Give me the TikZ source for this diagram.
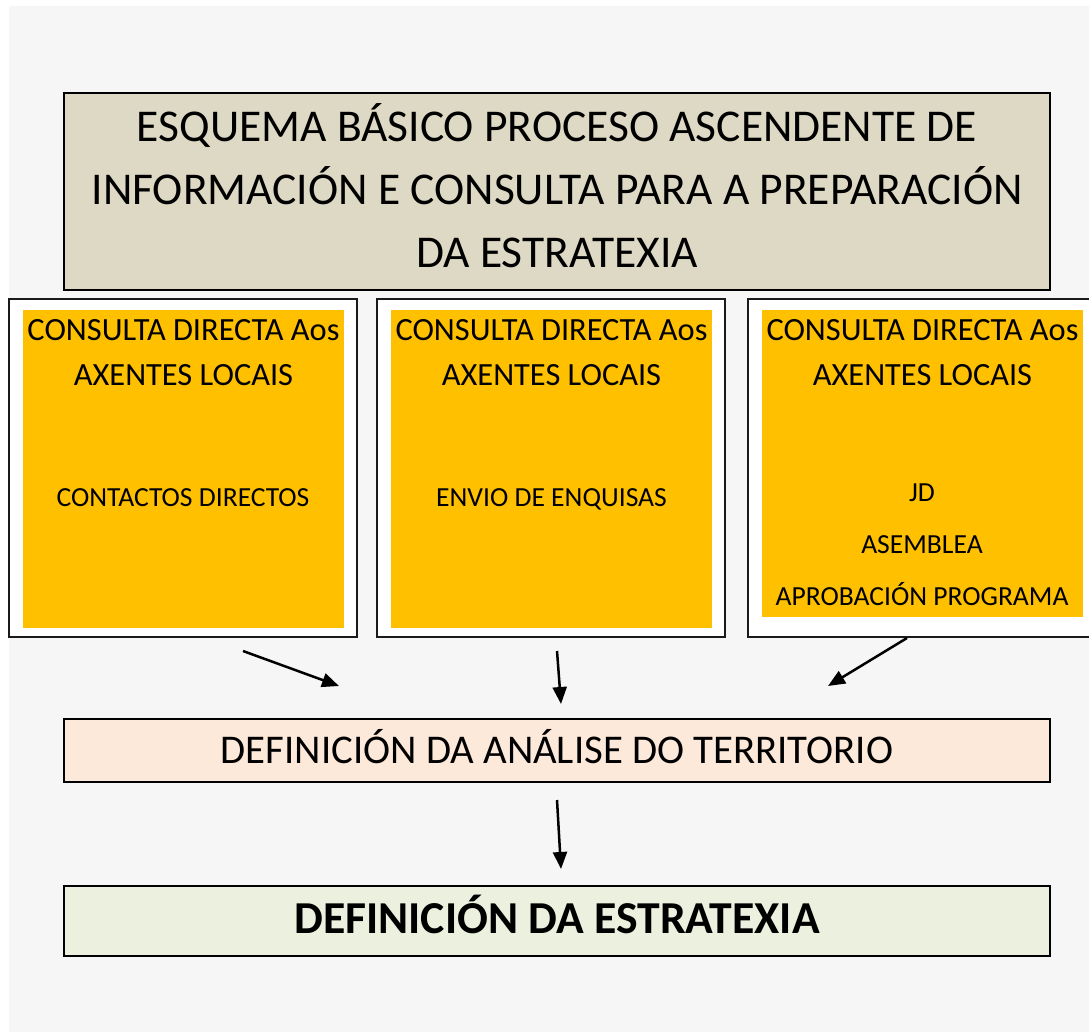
\documentclass[tikz,border=0pt]{standalone}
\usepackage{fontspec}
\setmainfont{Carlito}
\usetikzlibrary{arrows.meta}
\definecolor{bggray}{HTML}{F6F6F6}
\definecolor{titlefill}{HTML}{DDD9C4}
\definecolor{orangefill}{HTML}{FFC000}
\definecolor{analysisfill}{HTML}{FDE9D9}
\definecolor{stratfill}{HTML}{EBF1DE}
\definecolor{frame}{HTML}{1A1A1A}
\tikzset{
  mainbox/.style={draw=black, line width=2pt, inner sep=0pt},
  whitebox/.style={draw=frame, line width=1.5pt, fill=white, inner sep=0pt},
  orangebox/.style={fill=orangefill, inner sep=0pt},
  txt/.style={anchor=base, inner sep=0pt},
  conn/.style={line width=2.5pt, -{Triangle[length=17pt,width=14pt]}},
}
\begin{document}
\begin{tikzpicture}[x=1pt,y=-1pt]
\useasboundingbox (0,0) rectangle (1089,1032);
\fill[bggray] (9,6) rectangle (1089,1032);

% title
\node[mainbox, fill=titlefill, minimum width=986pt, minimum height=197pt] (title) at (557,191.5) {};
\node[txt, font=\fontsize{45.5}{54}\selectfont] (t1) at (557,142) {ESQUEMA BÁSICO PROCESO ASCENDENTE DE};
\node[txt, font=\fontsize{45.5}{54}\selectfont] (t2) at (557,205) {INFORMACIÓN E CONSULTA PARA A PREPARACIÓN};
\node[txt, font=\fontsize{45.5}{54}\selectfont] (t3) at (557,268) {DA ESTRATEXIA};

% three boxes
\node[whitebox, minimum width=348pt, minimum height=338pt] (b1) at (183,468) {};
\node[whitebox, minimum width=348pt, minimum height=338pt] (b2) at (551,468) {};
\node[whitebox, minimum width=345pt, minimum height=338pt] (b3) at (920.5,468) {};
\node[orangebox, minimum width=321pt, minimum height=318pt] (o1) at (183.5,469) {};
\node[orangebox, minimum width=321pt, minimum height=318pt] (o2) at (551.5,469) {};
\node[orangebox, minimum width=321pt, minimum height=307pt] (o3) at (922.5,463.5) {};

\foreach \n/\cx in {1/183.5, 2/551.5, 3/922.5} {
  \node[txt, font=\fontsize{32.4}{38}\selectfont] (h\n a) at (\cx,340) {CONSULTA DIRECTA Aos};
  \node[txt, font=\fontsize{32.4}{38}\selectfont] (h\n b) at (\cx,385) {AXENTES LOCAIS};
}
\node[txt, font=\fontsize{27.6}{32}\selectfont] (s1) at (183,506) {CONTACTOS DIRECTOS};
\node[txt, font=\fontsize{27.6}{32}\selectfont] (s2) at (551.5,506) {ENVIO DE ENQUISAS};
\node[txt, font=\fontsize{27.6}{32}\selectfont] (s3a) at (922,501) {JD};
\node[txt, font=\fontsize{27.6}{32}\selectfont] (s3b) at (922,553) {ASEMBLEA};
\node[txt, font=\fontsize{27.6}{32}\selectfont] (s3c) at (922,605) {APROBACIÓN PROGRAMA};

% analysis
\node[mainbox, fill=analysisfill, minimum width=986pt, minimum height=63pt] (an) at (557,750.5) {};
\node[txt, font=\fontsize{40.8}{48}\selectfont] (ant) at (557,763) {DEFINICIÓN DA ANÁLISE DO TERRITORIO};

% strategy
\node[mainbox, fill=stratfill, minimum width=986pt, minimum height=70pt] (st) at (557,921) {};
\node[txt, font=\fontsize{45.7}{54}\selectfont\bfseries] (stt) at (557,933) {DEFINICIÓN DA ESTRATEXIA};

% arrow coordinates
\coordinate (a1s) at (243,651);
\coordinate (a1e) at (339,686);
\coordinate (a2s) at (557,651);
\coordinate (a2e) at (561,704);
\coordinate (a3s) at (907,638);
\coordinate (a3e) at (828,686);
\coordinate (a4s) at (557,800);
\coordinate (a4e) at (561,869);
\draw[conn] (a1s) -- (a1e);
\draw[conn] (a2s) -- (a2e);
\draw[conn] (a3s) -- (a3e);
\draw[conn] (a4s) -- (a4e);
\end{tikzpicture}
\end{document}
